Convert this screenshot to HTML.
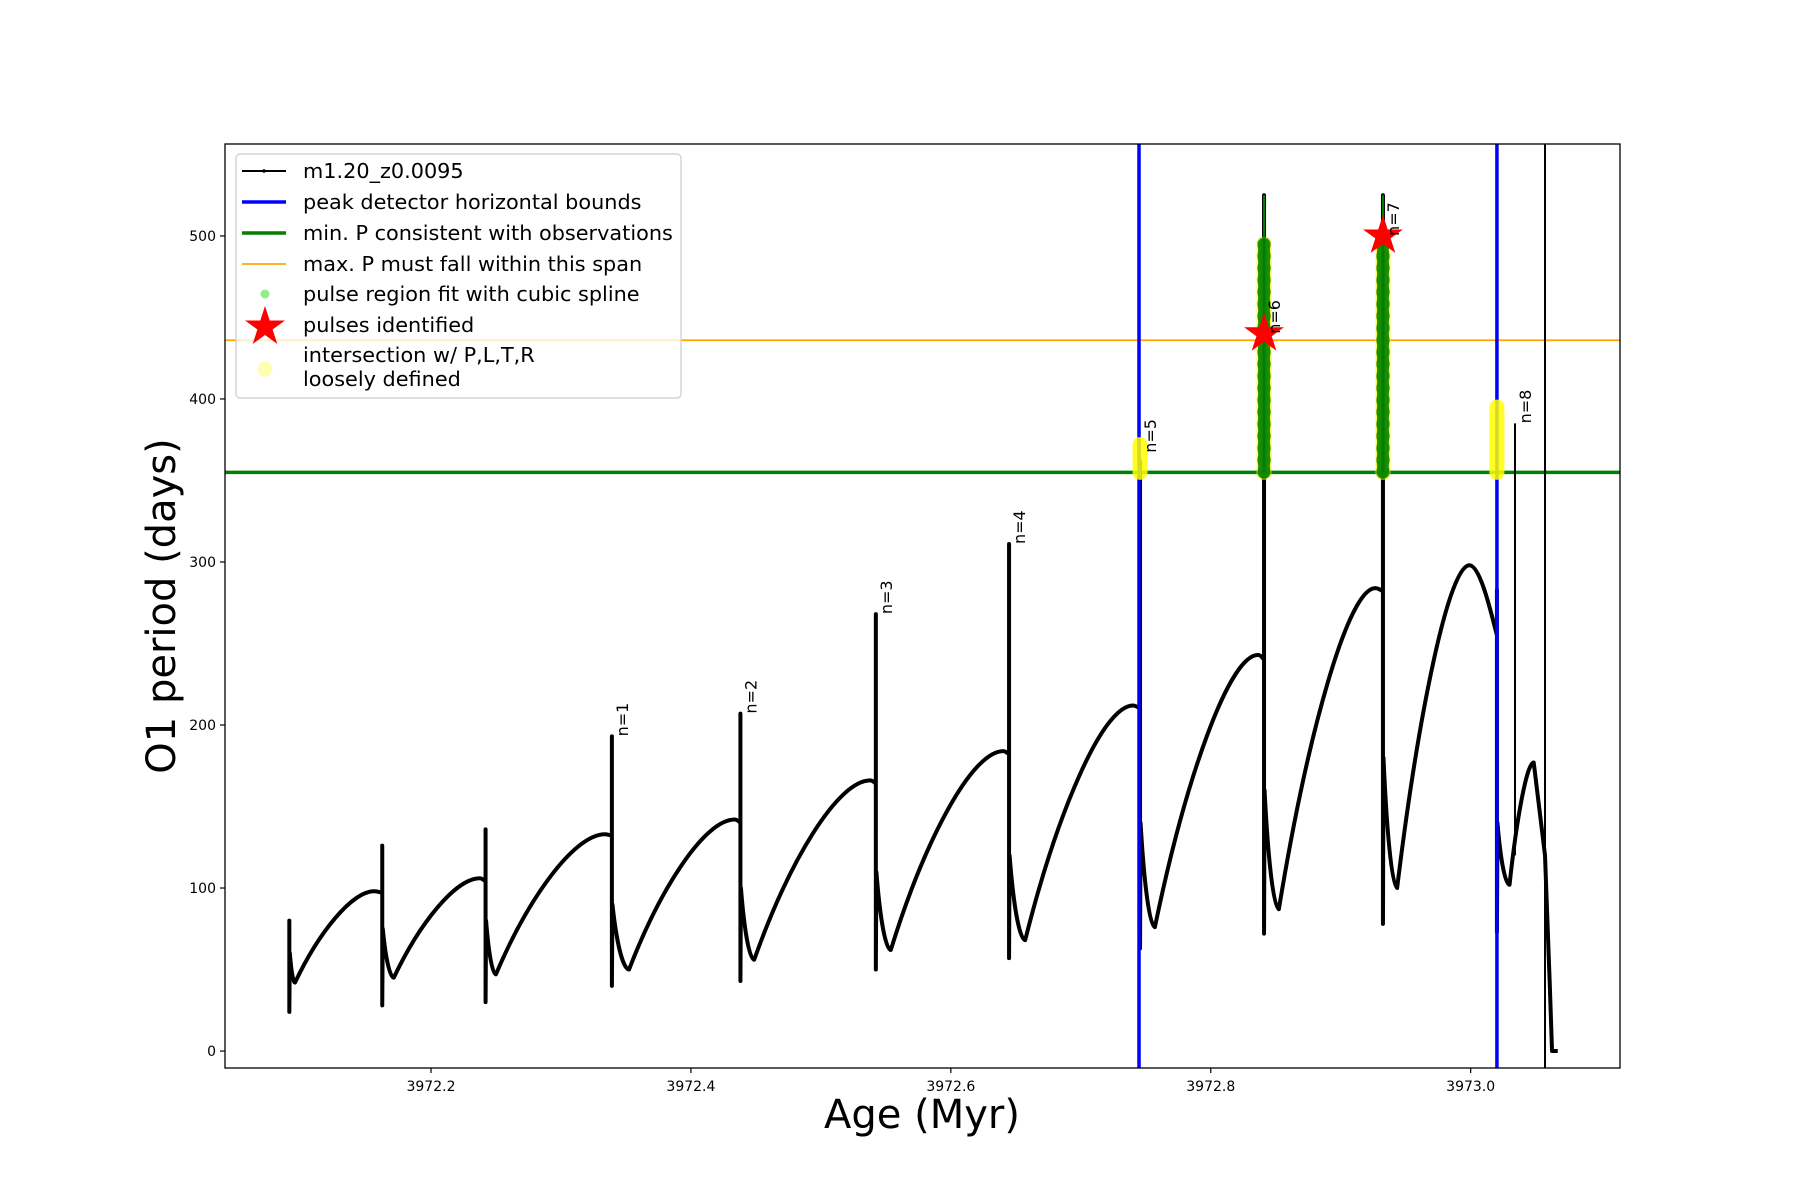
<!DOCTYPE html>
<html>
<head>
<meta charset="utf-8">
<style>
html,body{margin:0;padding:0;background:#fff;}
svg{display:block;font-family:"DejaVu Sans","Liberation Sans",sans-serif;}
</style>
</head>
<body>
<svg id="chart" width="1800" height="1200" viewBox="0 0 1800 1200" xmlns="http://www.w3.org/2000/svg">
  <rect x="0" y="0" width="1800" height="1200" fill="#fff"/>
  <g id="plot"></g>
  <rect x="225" y="144" width="1395" height="924" fill="none" stroke="#000" stroke-width="1.3"/>
  <g id="xticks"></g>
  <g id="yticks"></g>
  <text x="922" y="1128" font-size="40" text-anchor="middle">Age (Myr)</text>
  <text transform="translate(175,606) rotate(-90)" font-size="40" text-anchor="middle">O1 period (days)</text>

  <g>
    <rect x="236" y="154" width="445" height="244" rx="4" fill="#fff" fill-opacity="0.8" stroke="#ccc" stroke-width="1.2"/>
    <g>
      <line x1="242" y1="171" x2="286" y2="171" stroke="#000" stroke-width="2"/><circle cx="264" cy="171" r="1.8" fill="#000"/>
      <text x="303" y="178" font-size="20.8">m1.20_z0.0095</text>
    </g>
    <g>
      <line x1="242" y1="202" x2="286" y2="202" stroke="#0000ff" stroke-width="3.5"/>
      <text x="303" y="209" font-size="20.8">peak detector horizontal bounds</text>
    </g>
    <g>
      <line x1="242" y1="233" x2="286" y2="233" stroke="#008000" stroke-width="3.5"/>
      <text x="303" y="240" font-size="20.8">min. P consistent with observations</text>
    </g>
    <g>
      <line x1="242" y1="264" x2="286" y2="264" stroke="#ffa500" stroke-width="1.8"/>
      <text x="303" y="271" font-size="20.8">max. P must fall within this span</text>
    </g>
    <g>
      <circle cx="265" cy="294" r="4.5" fill="#90ee90"/>
      <text x="303" y="301" font-size="20.8">pulse region fit with cubic spline</text>
    </g>
    <g>
      <polygon id="legstar" fill="#ff0000"/>
      <text x="303" y="332" font-size="20.8">pulses identified</text>
    </g>
    <g>
      <ellipse cx="265" cy="369" rx="7.5" ry="8" fill="#ffffa0" opacity="0.8"/>
      <text x="303" y="362" font-size="20.8">intersection w/ P,L,T,R</text>
      <text x="303" y="386" font-size="20.8">loosely defined</text>
    </g>
  </g>
</svg>
<script>
// ---- data ----
const pulseAge    = [3972.0910,3972.1625,3972.2420,3972.3392,3972.4381,3972.5423,3972.6448,3972.7456,3972.8410,3972.9325,3973.0202];
const preValue    = [67,97,104,132,140,164,182,210,240,282,255];
const spikeTop    = [80,126,136,193,207,268,311,362,525,525,283];
const spikeLow    = [24,28,30,40,43,50,57,63,72,78,73];
const postValue   = [60,75,80,90,100,110,120,140,160,180,140];
const troughAge   = [3972.0954,3972.1714,3972.2499,3972.3524,3972.4487,3972.5538,3972.6572,3972.7570,3972.8524,3972.9434,3973.0299];
const troughValue = [42,45,47,50,56,62,68,76,87,100,102];
const peakAge     = [3972.1563,3972.2376,3972.3339,3972.4337,3972.5380,3972.6404,3972.7402,3972.8365,3972.9266,3972.9990,3973.0485];
const peakValue   = [98,106,133,142,166,184,212,243,284,298,177];
const finalAges   = [3973.0572,3973.0609,3973.0626,3973.0670];
const finalValues = [120,40,0,0];
const pulseLabels = ["n=1","n=2","n=3","n=4","n=5","n=6","n=7","n=8"];
const labelAge    = [3972.3392,3972.4381,3972.5423,3972.6448,3972.7456,3972.8410,3972.9325,3973.0341];
const labelValue  = [193,207,268,311,367,440,500,385];
const boundAges   = [3972.7448,3973.0202];
const minP = [355];
const maxP = [436];
const starAges   = [3972.8410,3972.9325];
const starValues = [440,500];
const fitAges = [3972.8410,3972.9325];
const fitLow  = [355,355];
const fitHigh = [495,495];
const fitTop  = [525,525];
const looseAges = [3972.7456,3973.0202];
const looseLow  = [355,355];
const looseHigh = [372,395];
const extraLineAge = [3973.0341];
const extraLineVals = [120,385];
const extraVertAge = [3973.0572];
const xTicks = [3972.2,3972.4,3972.6,3972.8,3973.0];
const xTickLabels = ["3972.2","3972.4","3972.6","3972.8","3973.0"];
const yTicks = [0,100,200,300,400,500];
const yTickLabels = ["0","100","200","300","400","500"];

// ---- axes ----
const X0=225,X1=1620,Y0=144,Y1=1068;
const xMin=3972.0415,xMax=3973.1149,yMin=-10.4,yMax=556.4;
const sx=v=>X0+(v-xMin)/(xMax-xMin)*(X1-X0);
const sy=v=>Y1-(v-yMin)/(yMax-yMin)*(Y1-Y0);
const NS="http://www.w3.org/2000/svg";
const plot=document.getElementById('plot');
function mk(tag,attrs,parent){const e=document.createElementNS(NS,tag);for(const k in attrs)e.setAttribute(k,attrs[k]);(parent||plot).appendChild(e);return e;}

const defs=mk('defs',{},document.getElementById('chart'));
const cp=mk('clipPath',{id:'clip'},defs);mk('rect',{x:X0,y:Y0,width:X1-X0,height:Y1-Y0},cp);
plot.setAttribute('clip-path','url(#clip)');

let e=mk('line',{x1:X0,x2:X1,y1:sy(minP[0]),y2:sy(minP[0]),stroke:'#008000','stroke-width':3.5});


e=mk('line',{x1:X0,x2:X1,y1:sy(maxP[0]),y2:sy(maxP[0]),stroke:'#ffa500','stroke-width':1.8});



// main curve
let d='';
const P=(a,v)=>sx(a).toFixed(2)+','+sy(v).toFixed(2);
for(let i=0;i<pulseAge.length;i++){
  const pa=pulseAge[i];
  d+=(i===0?'M':'L')+P(pa,preValue[i])+' L'+P(pa,spikeTop[i])+' L'+P(pa,spikeLow[i])+' L'+P(pa+0.0004,postValue[i]);
  const ta=troughAge[i],tv=troughValue[i],dd=ta-pa-0.0004;
  d+=' C'+P(pa+0.0004+0.3*dd,tv+0.3*(postValue[i]-tv))+' '+P(ta-0.3*dd,tv)+' '+P(ta,tv);
  const pk=peakAge[i],pv=peakValue[i],dt=pk-ta,dv=pv-tv;
  d+=' C'+P(ta+0.3*dt,tv+0.55*dv)+' '+P(ta+0.72*dt,pv)+' '+P(pk,pv);
  if(i+1<pulseAge.length){
    const na=pulseAge[i+1],g=na-pk;
    d+=' C'+P(pk+0.4*g,pv)+' '+P(na-0.2*g,preValue[i+1]+0.3*(pv-preValue[i+1]))+' '+P(na,preValue[i+1]);
  }
}
for(let j=0;j<finalAges.length;j++)d+=' L'+P(finalAges[j],finalValues[j]);
e=mk('path',{d:d,fill:'none',stroke:'#000','stroke-width':4,'stroke-linejoin':'round'});



e=mk('line',{x1:sx(extraLineAge[0]),x2:sx(extraLineAge[0]),y1:sy(extraLineVals[0]),y2:sy(extraLineVals[1]),stroke:'#000','stroke-width':2});


e=mk('line',{x1:sx(extraVertAge[0]),x2:sx(extraVertAge[0]),y1:Y0,y2:Y1,stroke:'#000','stroke-width':2});



boundAges.forEach(a=>{
  const l=mk('line',{x1:sx(a),x2:sx(a),y1:Y0,y2:Y1,stroke:'#0000ff','stroke-width':3.5});
  
  
});

looseAges.forEach((a,i)=>{
  const l=mk('line',{x1:sx(a),x2:sx(a),y1:sy(looseLow[i]),y2:sy(looseHigh[i]),stroke:'#ffff00','stroke-width':15,'stroke-linecap':'round',opacity:0.85});
  
  
});
fitAges.forEach((a,i)=>{
  const l=mk('line',{x1:sx(a),x2:sx(a),y1:sy(fitLow[i]),y2:sy(fitHigh[i]),stroke:'#ffff00','stroke-width':15,'stroke-linecap':'round',opacity:0.7});
  
  
});

fitAges.forEach((a,i)=>{
  const x=sx(a);
  const t=mk('line',{x1:x,x2:x,y1:sy(fitLow[i]),y2:sy(fitTop[i]),stroke:'#008000','stroke-width':2});
  
  
  const b=mk('line',{x1:x,x2:x,y1:sy(fitLow[i]),y2:sy(fitHigh[i]),stroke:'#008000','stroke-width':12,'stroke-linecap':'round',opacity:0.8});
  
  
  for(let y=sy(fitHigh[i]);y<=sy(fitLow[i]);y+=12){
    const c=mk('circle',{cx:x,cy:y,r:7,fill:'#008000',opacity:0.5});
    
    
  }
});

function starPts(cx,cy,R){const r=R*0.382;let s=[];for(let k=0;k<10;k++){const a=-Math.PI/2+k*Math.PI/5;const rr=k%2?r:R;s.push((cx+rr*Math.cos(a)).toFixed(1)+','+(cy+rr*Math.sin(a)).toFixed(1));}return s.join(' ');}
starAges.forEach((a,i)=>{
  const s=mk('polygon',{points:starPts(sx(a),sy(starValues[i]),21),fill:'#ff0000'});
  
  
});
document.getElementById('legstar').setAttribute('points',starPts(265,327,21));

pulseLabels.forEach((t,i)=>{
  const x=sx(labelAge[i])+16,y=sy(labelValue[i]);
  const tx=mk('text',{transform:`translate(${x},${y}) rotate(-90)`,'font-size':16,fill:'#000'});
  tx.textContent=t;
  
  
});

const xg=document.getElementById('xticks'),yg=document.getElementById('yticks');
xTicks.forEach((v,i)=>{
  const x=sx(v);
  const l=mk('line',{x1:x,x2:x,y1:Y1,y2:Y1+5,stroke:'#000','stroke-width':1.2},xg);
  
  
  const t=mk('text',{x:x,y:Y1+23,'font-size':14,'text-anchor':'middle'},xg);
  t.textContent=xTickLabels[i];
  
  
});
yTicks.forEach((v,i)=>{
  const y=sy(v);
  const l=mk('line',{x1:X0-5,x2:X0,y1:y,y2:y,stroke:'#000','stroke-width':1.2},yg);
  
  
  const t=mk('text',{x:X0-9,y:y+5,'font-size':14,'text-anchor':'end'},yg);
  t.textContent=yTickLabels[i];
  
  
});
</script>
</body>
</html>
